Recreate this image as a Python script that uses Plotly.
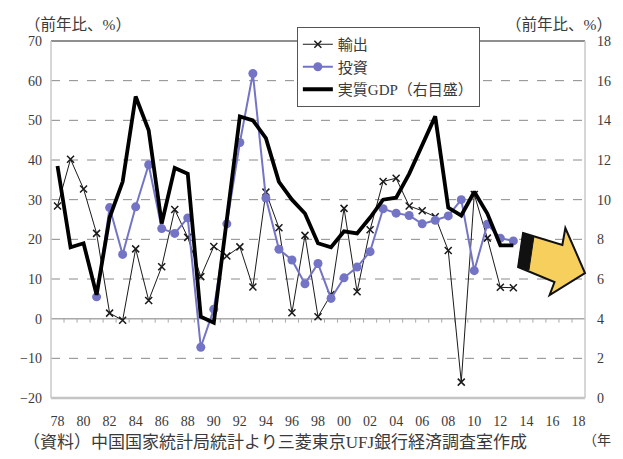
import plotly.graph_objects as go

# ---------------- data ----------------
years = list(range(1978, 2014))
exports = [28.4, 40.2, 32.7, 21.5, 1.4, -0.4, 17.6, 4.6, 13.1, 27.5, 20.5, 10.6,
           18.2, 15.8, 18.1, 8.0, 31.9, 22.9, 1.5, 21.0, 0.5, 6.1, 27.8, 6.8,
           22.4, 34.6, 35.4, 28.4, 27.2, 25.7, 17.2, -16.0, 31.3, 20.3, 7.9, 7.8]
inv_years = list(range(1981, 2014))
investment = [5.5, 28.0, 16.2, 28.2, 38.8, 22.7, 21.5, 25.4, -7.2, 2.4, 23.9,
              44.4, 61.8, 30.4, 17.5, 14.8, 8.8, 13.9, 5.1, 10.3, 13.0, 16.9,
              27.7, 26.6, 26.0, 23.9, 24.8, 25.9, 30.0, 12.1, 23.8, 20.3, 19.6]
gdp = [11.7, 7.6, 7.8, 5.2, 9.1, 10.9, 15.2, 13.5, 8.8, 11.6, 11.3, 4.1,
       3.8, 9.2, 14.2, 14.0, 13.1, 10.9, 10.0, 9.3, 7.8, 7.6, 8.4, 8.3,
       9.1, 10.0, 10.1, 11.3, 12.7, 14.2, 9.6, 9.2, 10.4, 9.3, 7.7, 7.7]

x_tick_years = list(range(1978, 2019, 2))
x_tick_labels = [f"{y % 100:02d}" for y in x_tick_years]
left_ticks = list(range(-20, 71, 10))
right_ticks = list(range(0, 19, 2))
grid_values = [-10, 10, 20, 30, 40, 50, 60]

names = ["輸出", "投資", "実質GDP（右目盛）"]
unit_label = "（前年比、%）"
source_label = "（資料）中国国家統計局統計より三菱東京UFJ銀行経済調査室作成"
year_label = "（年"

# ---------------- layout geometry ----------------
# target pixel geometry (window coordinates); page body has an 8px margin
OFF = 8
WIN_W, WIN_H = 623, 459
W, H = WIN_W - OFF, WIN_H - OFF
L, R, T, B = 50, 593, 41, 398
FONT = "Liberation Serif, Noto Sans CJK JP, serif"
TXT = "#3a3a3a"


def px(x):
    return (x - L) / (R - L)


def py(y):
    return (B - y) / (B - T)


fig = go.Figure()

fig.add_trace(go.Scatter(
    x=years, y=exports, name=names[0], mode="lines+markers",
    line=dict(color="#1a1a1a", width=1),
    marker=dict(symbol="x-thin", size=7, line=dict(color="#1a1a1a", width=1.5)),
))
fig.add_trace(go.Scatter(
    x=inv_years, y=investment, name=names[1], mode="lines+markers",
    line=dict(color="#7474c6", width=2),
    marker=dict(symbol="circle", size=9, color="#7474c6"),
))
fig.add_trace(go.Scatter(
    x=years, y=gdp, name=names[2], mode="lines", yaxis="y2",
    line=dict(color="#000000", width=3.8),
))

shapes = []
for g in grid_values:
    shapes.append(dict(type="line", xref="paper", yref="y", x0=0, x1=1, y0=g, y1=g,
                       line=dict(color="#8a8a8a", width=1, dash="dash"), layer="below"))
shapes.append(dict(type="line", xref="paper", yref="y", x0=0, x1=1, y0=0, y1=0,
                   line=dict(color="#a8a8a8", width=1.5), layer="below"))
for k in range(1, 41):
    xb = 1977.5 + k
    shapes.append(dict(type="line", xref="x", yref="y", x0=xb, x1=xb, y0=0, y1=-1,
                       line=dict(color="#a8a8a8", width=1), layer="below"))
shapes.append(dict(type="line", xref="paper", yref="paper", x0=0, x1=1, y0=1, y1=1,
                   line=dict(color="#6a6a6a", width=1.5), layer="below"))
shapes.append(dict(type="line", xref="paper", yref="paper", x0=0, x1=1, y0=0, y1=0,
                   line=dict(color="#c4c4c4", width=2.5), layer="below"))
shapes.append(dict(type="line", xref="paper", yref="paper", x0=0, x1=0, y0=0, y1=1,
                   line=dict(color="#c8c8c8", width=1.5), layer="below"))
shapes.append(dict(type="line", xref="paper", yref="paper", x0=1, x1=1, y0=0, y1=1,
                   line=dict(color="#c8c8c8", width=1.5), layer="below"))

# decorative yellow arrow
arrow_pts = [(530, 233), (570, 245), (573, 228), (593, 273), (557, 295), (562, 282), (525, 267)]
band_pts = [(530, 233), (541, 237), (536, 270), (525, 267)]


def path(pts):
    return "M " + " L ".join(f"{px(a):.4f},{py(b):.4f}" for a, b in pts) + " Z"


shapes.append(dict(type="path", xref="paper", yref="paper", path=path(arrow_pts),
                   fillcolor="#f6cf5c", line=dict(color="#111111", width=2), layer="above"))
shapes.append(dict(type="path", xref="paper", yref="paper", path=path(band_pts),
                   fillcolor="#111111", line=dict(color="#111111", width=1), layer="above"))

annotations = [
    dict(text=unit_label, xref="paper", yref="paper", x=px(77), y=py(25),
         xanchor="center", yanchor="middle", showarrow=False,
         font=dict(family=FONT, size=15.5, color=TXT)),
    dict(text=unit_label, xref="paper", yref="paper", x=px(622), y=py(25),
         xanchor="right", yanchor="middle", showarrow=False,
         font=dict(family=FONT, size=15.5, color=TXT)),
    dict(text=source_label, xref="paper", yref="paper", x=px(20), y=py(442),
         xanchor="left", yanchor="middle", showarrow=False,
         font=dict(family=FONT, size=17, color=TXT)),
    dict(text=year_label, xref="paper", yref="paper", x=px(621), y=py(440),
         xanchor="right", yanchor="middle", showarrow=False,
         font=dict(family=FONT, size=14, color=TXT)),
]

fig.update_layout(
    width=W, height=H,
    margin=dict(l=L - OFF, r=WIN_W - R, t=T - OFF, b=WIN_H - B, pad=0),
    paper_bgcolor="white", plot_bgcolor="white",
    showlegend=True,
    legend=dict(x=px(300), y=py(27), xanchor="left", yanchor="top",
                bgcolor="white", bordercolor="#555555", borderwidth=1,
                font=dict(family=FONT, size=15, color=TXT),
                tracegroupgap=0, itemwidth=30),
    xaxis=dict(range=[1977.5, 2018.5], tickmode="array", tickvals=x_tick_years,
               ticktext=x_tick_labels, showgrid=False, zeroline=False,
               showline=False, ticks="", ticklabelstandoff=13,
               tickfont=dict(family=FONT, size=14, color=TXT)),
    yaxis=dict(range=[-20, 70], tickmode="array", tickvals=left_ticks,
               showgrid=False, zeroline=False, showline=False, ticks="",
               ticklabelstandoff=8,
               tickfont=dict(family=FONT, size=14, color=TXT)),
    yaxis2=dict(range=[0, 18], tickmode="array", tickvals=right_ticks,
                overlaying="y", side="right", showgrid=False, zeroline=False,
                showline=False, ticks="", ticklabelstandoff=11,
                tickfont=dict(family=FONT, size=14, color=TXT)),
    shapes=shapes,
    annotations=annotations,
)

fig.write_html("out.html")
